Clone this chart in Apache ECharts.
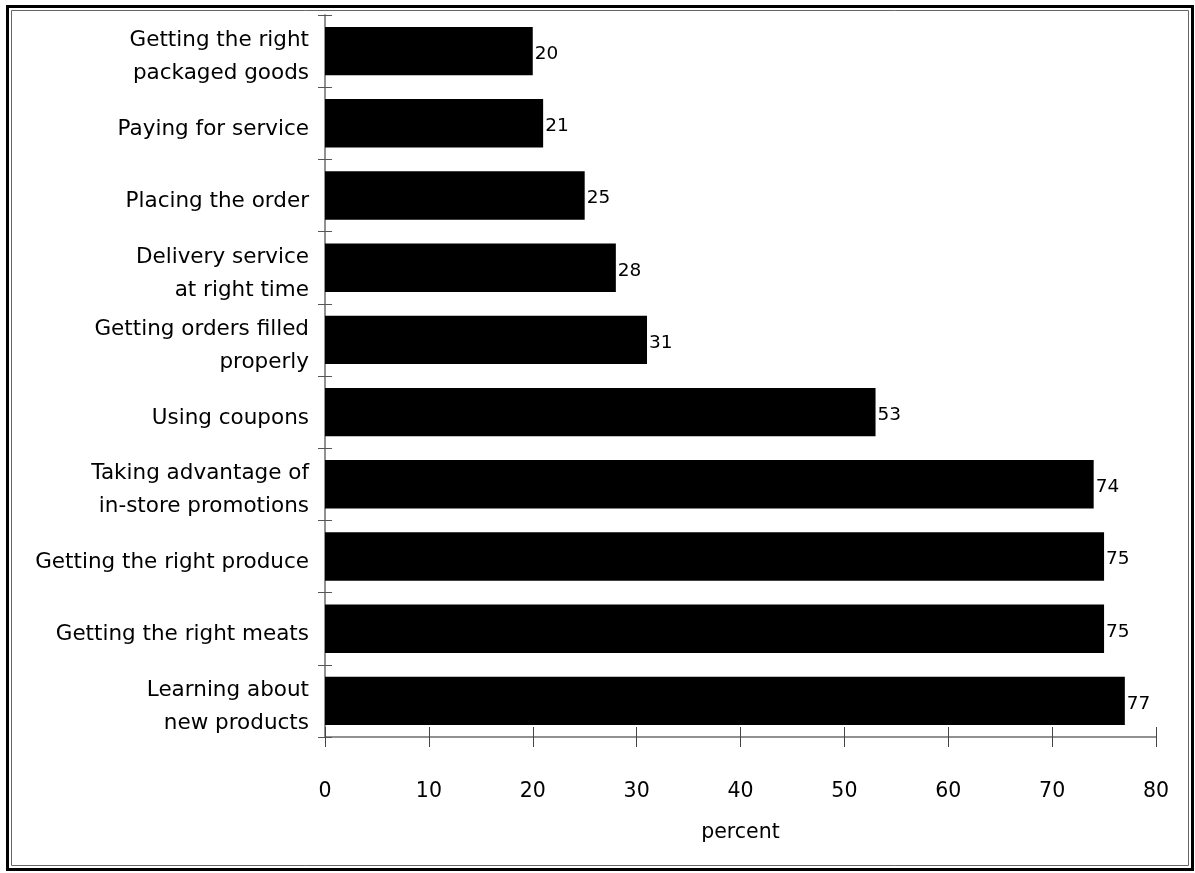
<!DOCTYPE html>
<html>
<head>
<meta charset="utf-8">
<script src="https://cdn.jsdelivr.net/npm/echarts@6/dist/echarts.min.js"></script>
<style>
  html, body { margin: 0; padding: 0; background: #fff; }
  #chart { width: 1195px; height: 873px; }
</style>
</head>
<body>
<div id="chart"></div>
<script>
// Shopping tasks, listed top to bottom
const categories = [
  'Getting the right\npackaged goods',
  'Paying for service',
  'Placing the order',
  'Delivery service\nat right time',
  'Getting orders filled\nproperly',
  'Using coupons',
  'Taking advantage of\nin-store promotions',
  'Getting the right produce',
  'Getting the right meats',
  'Learning about\nnew products'
];
const percentValues = [20, 21, 25, 28, 31, 53, 74, 75, 75, 77];
const xMin = 0, xMax = 80, xStep = 10;
const axisName = 'percent';

const FONT = 'DejaVu Sans';
const chart = echarts.init(document.getElementById('chart'), null, { renderer: 'canvas' });

const valueAxisBase = {
  type: 'value', min: xMin, max: xMax, interval: xStep, position: 'bottom',
  splitLine: { show: false },
  axisLine: { show: true, lineStyle: { color: '#8a8a8a', width: 1.5 } }
};
const catAxisBase = {
  type: 'category', data: categories, inverse: true, position: 'left',
  splitLine: { show: false },
  axisLine: { show: true, lineStyle: { color: '#8a8a8a', width: 1.5 } }
};

// category label: a small empty line on top nudges the text block slightly down
const catLabel = v => '{s| }\n' + v.split('\n').map(l => '{t|' + l + '}').join('\n');

chart.setOption({
  animation: false,
  backgroundColor: '#fff',
  grid: { left: 325, right: 39, top: 15, bottom: 136, containLabel: false },
  xAxis: [
    Object.assign({}, valueAxisBase, {
      name: axisName, nameLocation: 'middle', nameGap: 85,
      nameTextStyle: { fontFamily: FONT, fontSize: 20.5, color: '#000' },
      axisTick: { show: true, inside: false, length: 10, lineStyle: { color: '#444', width: 1 } },
      axisLabel: { margin: 44, fontFamily: FONT, fontSize: 20.5, color: '#000' }
    }),
    Object.assign({}, valueAxisBase, {
      axisTick: { show: true, inside: true, length: 10, lineStyle: { color: '#444', width: 1 } },
      axisLabel: { show: false }
    })
  ],
  yAxis: [
    Object.assign({}, catAxisBase, {
      axisTick: { show: true, inside: false, length: 7, lineStyle: { color: '#555', width: 1 } },
      axisLabel: {
        margin: 16, align: 'right', formatter: catLabel,
        rich: {
          s: { fontFamily: FONT, fontSize: 4, lineHeight: 12, align: 'right' },
          t: { fontFamily: FONT, fontSize: 21.5, lineHeight: 33, color: '#000', align: 'right' }
        }
      }
    }),
    Object.assign({}, catAxisBase, {
      axisTick: { show: true, inside: true, length: 7, lineStyle: { color: '#555', width: 1 } },
      axisLabel: { show: false }
    })
  ],
  series: [{
    type: 'bar',
    xAxisIndex: 0, yAxisIndex: 0,
    data: percentValues,
    barCategoryGap: '33%',
    itemStyle: { color: '#000' },
    label: {
      show: true, position: 'right', distance: 2, offset: [0, 3],
      fontFamily: FONT, fontSize: 18.5, color: '#000'
    }
  }],
  graphic: [
    { type: 'rect', shape: { x: 7.5, y: 6.5, width: 1185, height: 863 },
      style: { fill: null, stroke: '#000', lineWidth: 3 }, silent: true },
    { type: 'rect', shape: { x: 11.5, y: 10.5, width: 1177, height: 855 },
      style: { fill: null, stroke: '#666', lineWidth: 1 }, silent: true }
  ]
});
</script>
</body>
</html>
